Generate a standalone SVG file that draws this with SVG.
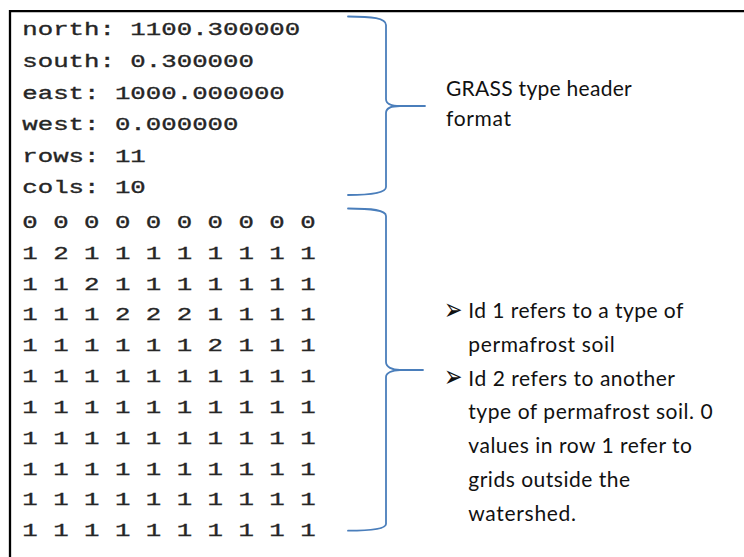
<svg xmlns="http://www.w3.org/2000/svg" width="744" height="557" viewBox="0 0 744 557">
  <style>
    .mono { font-family: "Liberation Mono", "DejaVu Sans Mono", monospace; font-size: 19px; fill: #262626; stroke: #262626; stroke-width: 0.35; }
    .note { font-family: Lato, "Liberation Sans", sans-serif; font-size: 21px; fill: #111; }
    .bullet { font-family: "DejaVu Sans", sans-serif; font-size: 22px; fill: #111; }
    .brace { fill: none; stroke: #4A7EBB; stroke-width: 1.8; stroke-linecap: round; stroke-linejoin: round; }
    .frame { fill: none; stroke: #000; stroke-width: 2.3; }
  </style>

  <rect width="744" height="557" fill="#fff"/>

  <!-- frame: top and left border -->
  <path class="frame" d="M10,557 L10,11.2 L744,11.2"/>

  <!-- header lines of the raster file -->
  <g id="header-block">
    <g transform="matrix(1.355,0,0,1,22.3,0)">
      <text class="mono" x="0" y="35.5">north: 1100.300000</text>
      <text class="mono" x="0" y="67.1">south: 0.300000</text>
      <text class="mono" x="0" y="98.7">east: 1000.000000</text>
      <text class="mono" x="0" y="130.3">west: 0.000000</text>
      <text class="mono" x="0" y="161.9">rows: 11</text>
      <text class="mono" x="0" y="193.5">cols: 10</text>
    </g>
  </g>

  <!-- grid values -->
  <g id="grid-block">
    <g transform="matrix(1.355,0,0,1,22.3,0)">
      <text class="mono" x="0" y="228">0 0 0 0 0 0 0 0 0 0</text>
      <text class="mono" x="0" y="258.8">1 2 1 1 1 1 1 1 1 1</text>
      <text class="mono" x="0" y="289.7">1 1 2 1 1 1 1 1 1 1</text>
      <text class="mono" x="0" y="320.5">1 1 1 2 2 2 1 1 1 1</text>
      <text class="mono" x="0" y="351.3">1 1 1 1 1 1 2 1 1 1</text>
      <text class="mono" x="0" y="382.2">1 1 1 1 1 1 1 1 1 1</text>
      <text class="mono" x="0" y="413">1 1 1 1 1 1 1 1 1 1</text>
      <text class="mono" x="0" y="443.8">1 1 1 1 1 1 1 1 1 1</text>
      <text class="mono" x="0" y="474.6">1 1 1 1 1 1 1 1 1 1</text>
      <text class="mono" x="0" y="505.5">1 1 1 1 1 1 1 1 1 1</text>
      <text class="mono" x="0" y="536.3">1 1 1 1 1 1 1 1 1 1</text>
    </g>
  </g>

  <!-- curly braces -->
  <g id="connectors">
    <path class="brace" d="M348,16.5 C372,16.5 386,18 386,25 L386,99 C386,104 392,106 400,106 L425,106 M400,106 C392,106 386,108 386,113 L386,187 C386,193 372,195 348,195"/>
    <path class="brace" d="M348,208.5 C372,208.5 386,210 386,216 L386,362 C386,367 392,370 400,370 L423,370 M400,370 C392,370 386,373 386,377 L386,524 C386,529 372,530.7 348,530.7"/>
  </g>

  <!-- note for the header -->
  <g id="header-note">
    <text class="note" x="446" y="96" textLength="185.7">GRASS type header</text>
    <text class="note" x="446" y="125.5" textLength="65">format</text>
  </g>

  <!-- note for the grid -->
  <g id="grid-note">
    <text class="bullet" transform="translate(444,310.5) scale(1,1.4)" x="0" y="6.6">➢</text>
    <text class="note" x="468.3" y="318.3" textLength="215">Id 1 refers to a type of</text>
    <text class="note" x="468.3" y="352" textLength="146.4">permafrost soil</text>
    <text class="bullet" transform="translate(444,377.9) scale(1,1.4)" x="0" y="6.6">➢</text>
    <text class="note" x="468.3" y="385.7" textLength="206.7">Id 2 refers to another</text>
    <text class="note" x="468.3" y="419.4" textLength="244.4">type of permafrost soil. 0</text>
    <text class="note" x="468.3" y="453.1" textLength="223.7">values in row 1 refer to</text>
    <text class="note" x="468.3" y="486.8" textLength="161.7">grids outside the</text>
    <text class="note" x="468.3" y="520.5" textLength="107.7">watershed.</text>
  </g>
</svg>
